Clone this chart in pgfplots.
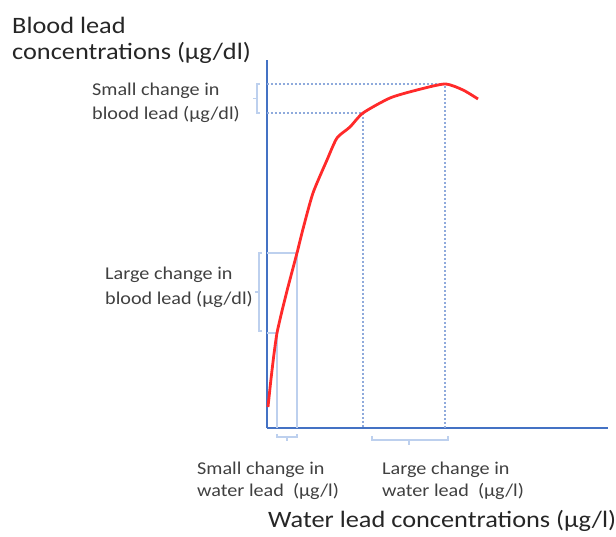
\documentclass[border=0pt]{standalone}
\usepackage{fontspec}
\setmainfont{Carlito}
\newfontfamily\widefont[FakeStretch=1.12]{Carlito}
\usepackage{pgfplots}
\pgfplotsset{compat=1.18}

\definecolor{axisblue}{HTML}{4472C4}
\definecolor{guideblue}{HTML}{BDD0EE}
\definecolor{dotblue}{HTML}{8FAADC}
\definecolor{curvered}{HTML}{FF2A2A}
\definecolor{labgrey}{HTML}{404040}
\definecolor{titlegrey}{HTML}{262626}

\tikzset{
  bigtxt/.style={inner sep=0pt, anchor=base west, text=titlegrey,
    font=\widefont\fontsize{23.5}{28}\selectfont},
  smalltxt/.style={inner sep=0pt, anchor=base west, text=labgrey,
    font=\widefont\fontsize{18}{21}\selectfont},
}

\begin{document}
\begin{tikzpicture}
\useasboundingbox (-267pt,-109pt) rectangle (349pt,428pt);
\begin{axis}[
    at={(0,0)}, anchor=origin,
    scale only axis, width=341pt, height=368pt,
    xmin=0, xmax=341, ymin=0, ymax=368,
    axis x line=bottom, axis y line=left,
    axis line style={-, line width=2.6pt, axisblue},
    xtick=\empty, ytick=\empty,
    clip=false,
]
% guide lines, solid (large change in blood lead)
\addplot[guideblue, line width=1.8pt] coordinates {(0,175) (30,175) (30,0)};
\addplot[guideblue, line width=1.8pt] coordinates {(0,95) (10,95) (10,0)};
% guide lines, dotted (small change in blood lead)
\addplot[dotblue, line width=1.3pt, dash pattern=on 2pt off 2pt] coordinates {(0,344) (178,344) (178,0)};
\addplot[dotblue, line width=1.3pt, dash pattern=on 2pt off 2pt] coordinates {(0,315) (96,315) (96,0)};

% curve
\addplot[curvered, line width=2.8pt, smooth, tension=0.4] coordinates {
(1,21) (4,49) (7,74) (10,95) (15,117) (21,141) (30,175) (36,199) (46,235) (60,268) (70,290)
(83,301) (96,315) (123,330) (150,338) (178,344) (196,338) (211,329)};

% brackets
\addplot[guideblue, line width=1.2pt] coordinates {(-7,344) (-10,344) (-10,315) (-7,315)};
\addplot[guideblue, line width=1.2pt] coordinates {(-10,329.5) (-14,329.5)};
\addplot[guideblue, line width=1.2pt] coordinates {(-5,175) (-8,175) (-8,97) (-5,97)};
\addplot[guideblue, line width=1.2pt] coordinates {(-8,136) (-12,136)};
\addplot[guideblue, line width=1.2pt] coordinates {(10,-6) (10,-9) (30,-9) (30,-6)};
\addplot[guideblue, line width=1.2pt] coordinates {(20,-9) (20,-13)};
\addplot[guideblue, line width=1.2pt] coordinates {(105,-8) (105,-12) (181,-12) (181,-8)};
\addplot[guideblue, line width=1.2pt] coordinates {(142,-12) (142,-17)};

% labels
\node[bigtxt] at (axis cs:-255,394) {Blood lead};
\node[bigtxt] at (axis cs:-255,368) {concentrations (µg/dl)};
\node[bigtxt] at (axis cs:1,-100) {Water lead concentrations (µg/l)};
\node[smalltxt] at (axis cs:-175,332) {Small change in};
\node[smalltxt] at (axis cs:-175,308) {blood lead (µg/dl)};
\node[smalltxt] at (axis cs:-162,148) {Large change in};
\node[smalltxt] at (axis cs:-162,123) {blood lead (µg/dl)};
\node[smalltxt] at (axis cs:-70,-47) {Small change in};
\node[smalltxt] at (axis cs:-70,-69) {water lead\ \ (µg/l)};
\node[smalltxt] at (axis cs:115,-47) {Large change in};
\node[smalltxt] at (axis cs:115,-69) {water lead\ \ (µg/l)};
\end{axis}
\end{tikzpicture}
\end{document}
